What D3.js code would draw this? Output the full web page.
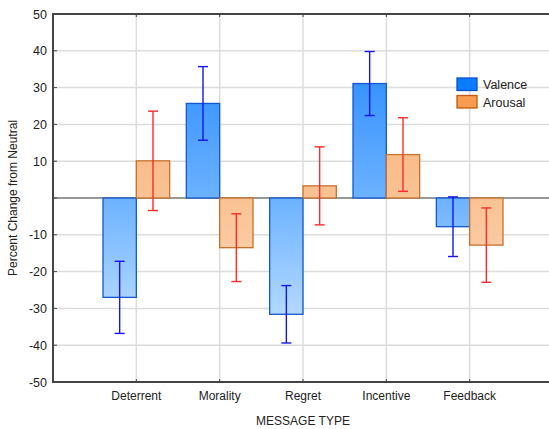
<!DOCTYPE html>
<html>
<head>
<meta charset="utf-8">
<script src="https://cdn.jsdelivr.net/npm/d3@7"></script>
<style>
  body { margin: 0; background: #fff; }
  text { font-family: "Liberation Sans", Arial, sans-serif; fill: #222; }
</style>
</head>
<body>
<div id="chart"></div>
<script>
// data
var categories = ["Deterrent", "Morality", "Regret", "Incentive", "Feedback"];
var valence     = [-27.0, 25.7, -31.6, 31.1, -7.8];
var valenceErr  = [9.8, 10.0, 7.8, 8.7, 8.1];
var arousal     = [10.1, -13.5, 3.3, 11.8, -12.8];
var arousalErr  = [13.5, 9.2, 10.6, 10.0, 10.1];
var yTicks = [50, 40, 30, 20, 10, 0, -10, -20, -30, -40, -50];
var seriesNames = ["Valence", "Arousal"];

var width = 549, height = 429;
var plotL = 53, plotT = 14, plotR = 553, plotB = 382;

var svg = d3.select("#chart").append("svg")
    .attr("width", width)
    .attr("height", height);

var x = d3.scaleLinear().domain([0, categories.length + 1]).range([plotL, plotR]);
var y = d3.scaleLinear().domain([-50, 50]).range([plotB, plotT]);
var barW = (x(1) - x(0)) * 0.4;

var defs = svg.append("defs");
function grad(id, c1, c2, c3) {
  var g = defs.append("linearGradient").attr("id", id)
    .attr("gradientUnits", "userSpaceOnUse")
    .attr("x1", 0).attr("x2", 0).attr("y1", y(40)).attr("y2", y(-40));
  g.append("stop").attr("offset", 0).attr("stop-color", c1);
  g.append("stop").attr("offset", 0.5).attr("stop-color", c2);
  g.append("stop").attr("offset", 1).attr("stop-color", c3);
}
grad("gBlue", "#2a8bff", "#6cb2ff", "#c6e3ff");
grad("gOrange", "#f6ad72", "#f9c293", "#fddcc3");

// grid
svg.append("g").selectAll("line")
  .data(yTicks.filter(function(d){ return d != 0 && d != 50 && d != -50; }))
  .enter().append("line")
  .attr("x1", plotL).attr("x2", plotR)
  .attr("y1", function(d){ return y(d); }).attr("y2", function(d){ return y(d); })
  .attr("stroke", "#dcdcdc").attr("stroke-width", 1.5);

svg.append("g").selectAll("line")
  .data(categories)
  .enter().append("line")
  .attr("x1", function(d, i){ return x(i + 1); }).attr("x2", function(d, i){ return x(i + 1); })
  .attr("y1", plotT).attr("y2", plotB)
  .attr("stroke", "#dcdcdc").attr("stroke-width", 1.5);

// zero line
svg.append("line")
  .attr("x1", plotL).attr("x2", plotR)
  .attr("y1", y(0)).attr("y2", y(0))
  .attr("stroke", "#333").attr("stroke-width", 1.2);

// bars
function drawBars(vals, errs, offset, fill, stroke, errColor) {
  var g = svg.append("g");
  g.selectAll("rect")
    .data(vals)
    .enter().append("rect")
    .attr("x", function(d, i){ return x(i + 1) + offset; })
    .attr("width", barW)
    .attr("y", function(d){ return y(Math.max(0, d)); })
    .attr("height", function(d){ return Math.abs(y(d) - y(0)); })
    .attr("fill", fill)
    .attr("stroke", stroke)
    .attr("stroke-width", 1.3);

  var e = g.selectAll("g")
    .data(vals)
    .enter().append("g")
    .attr("stroke", errColor).attr("stroke-width", 1.4);
  e.append("line")
    .attr("x1", function(d, i){ return x(i + 1) + offset + barW / 2; })
    .attr("x2", function(d, i){ return x(i + 1) + offset + barW / 2; })
    .attr("y1", function(d, i){ return y(d + errs[i]); })
    .attr("y2", function(d, i){ return y(d - errs[i]); });
  [1, -1].forEach(function(s) {
    e.append("line")
      .attr("x1", function(d, i){ return x(i + 1) + offset + barW / 2 - 5; })
      .attr("x2", function(d, i){ return x(i + 1) + offset + barW / 2 + 5; })
      .attr("y1", function(d, i){ return y(d + s * errs[i]); })
      .attr("y2", function(d, i){ return y(d + s * errs[i]); });
  });
}
drawBars(valence, valenceErr, -barW, "url(#gBlue)", "#1458d0", "#1515f0");
drawBars(arousal, arousalErr, 0, "url(#gOrange)", "#c8702c", "#ff2a2a");

// frame
svg.append("path")
  .attr("d", "M" + plotR + "," + plotT + "H" + plotL + "V" + plotB + "H" + plotR)
  .attr("fill", "none").attr("stroke", "#444").attr("stroke-width", 2);

// y axis ticks + labels
var yg = svg.append("g");
yg.selectAll("line")
  .data(yTicks).enter().append("line")
  .attr("x1", plotL).attr("x2", plotL + 4)
  .attr("y1", function(d){ return y(d); }).attr("y2", function(d){ return y(d); })
  .attr("stroke", "#444");
yg.selectAll("text")
  .data(yTicks.filter(function(d){ return d != 0; })).enter().append("text")
  .attr("x", plotL - 6).attr("y", function(d){ return y(d) + 4.5; })
  .attr("text-anchor", "end").style("font-size", "12.5px")
  .text(function(d){ return d; });

// x ticks + labels
var xg = svg.append("g");
categories.forEach(function(c, i) {
  xg.append("line").attr("x1", x(i + 1)).attr("x2", x(i + 1))
    .attr("y1", plotB).attr("y2", plotB - 3).attr("stroke", "#444");
  xg.append("line").attr("x1", x(i + 1)).attr("x2", x(i + 1))
    .attr("y1", plotT).attr("y2", plotT + 3).attr("stroke", "#444");
});
xg.selectAll("text")
  .data(categories).enter().append("text")
  .attr("x", function(d, i){ return x(i + 1); })
  .attr("y", 400)
  .attr("text-anchor", "middle").style("font-size", "12px")
  .text(function(d){ return d; });

svg.append("text")
  .attr("x", x(3)).attr("y", 425)
  .attr("text-anchor", "middle").style("font-size", "12px")
  .text("MESSAGE TYPE");

svg.append("text")
  .attr("transform", "translate(17," + y(0) + ") rotate(-90)")
  .attr("text-anchor", "middle").style("font-size", "12px")
  .text("Percent Change from Neutral");

// legend
var legColors = [["#0a7cff", "#0b4fd0"], ["#f89c52", "#c05a10"]];
var lg = svg.append("g").attr("transform", "translate(457,78)");
seriesNames.forEach(function(n, i) {
  lg.append("rect").attr("x", 0).attr("y", i * 17.5)
    .attr("width", 20).attr("height", 12.5)
    .attr("fill", legColors[i][0]).attr("stroke", legColors[i][1]).attr("stroke-width", 1.3);
  lg.append("text").attr("x", 26).attr("y", i * 17.5 + 11)
    .style("font-size", "12.5px").text(n);
});
</script>
</body>
</html>
